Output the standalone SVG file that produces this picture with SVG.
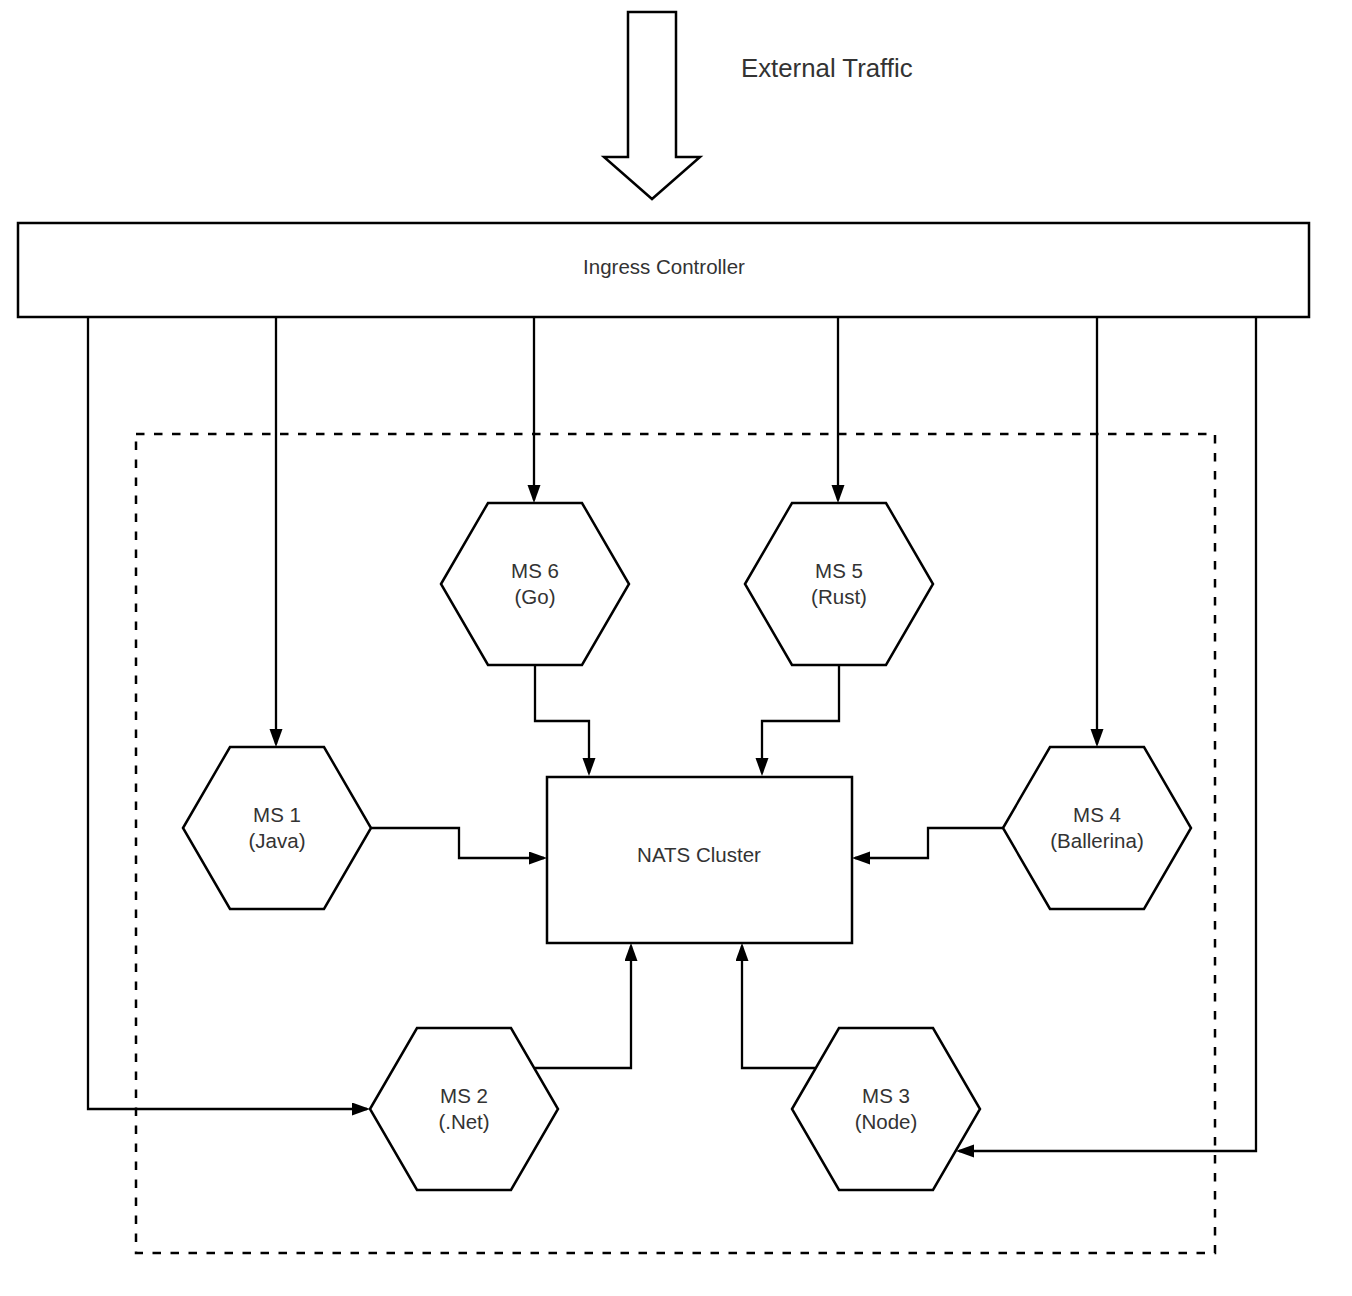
<svg xmlns="http://www.w3.org/2000/svg" width="1352" height="1296" viewBox="0 0 1352 1296">
<style>
.shape{fill:#fff;stroke:#000;stroke-width:2.5}
.conn{fill:none;stroke:#000;stroke-width:2.3}
.lbl{font-family:"Liberation Sans",Arial,sans-serif;font-size:20.5px;fill:#333;text-anchor:middle}
.big{font-size:25.8px;text-anchor:start}
</style>
<defs>
<marker id="ah" markerUnits="userSpaceOnUse" markerWidth="20" markerHeight="14" refX="15" refY="6.5" orient="auto">
<path d="M0,0 L18,6.5 L0,13 z" fill="#000"/>
</marker>
</defs>
<rect width="1352" height="1296" fill="#fff"/>
<g id="boundary">
<rect x="136" y="434" width="1079" height="819" fill="none" stroke="#000" stroke-width="2.5" stroke-dasharray="8.5 9.5"/>
</g>
<g id="external-traffic">
<polygon class="shape" points="628,12 676,12 676,157 700,157 652,199 604,157 628,157"/>
<text class="lbl big" x="741" y="77">External Traffic</text>
</g>
<g id="connectors">
<path class="conn" d="M88,317 V1109 H367" marker-end="url(#ah)"/>
<path class="conn" d="M276,317 V744" marker-end="url(#ah)"/>
<path class="conn" d="M534,317 V500" marker-end="url(#ah)"/>
<path class="conn" d="M838,317 V500" marker-end="url(#ah)"/>
<path class="conn" d="M1097,317 V744" marker-end="url(#ah)"/>
<path class="conn" d="M1256,317 V1151 H959" marker-end="url(#ah)"/>
<path class="conn" d="M371,828 H459 V858 H544" marker-end="url(#ah)"/>
<path class="conn" d="M1003,828 H928 V858 H855" marker-end="url(#ah)"/>
<path class="conn" d="M535,665 V721 H589 V773" marker-end="url(#ah)"/>
<path class="conn" d="M839,665 V721 H762 V773" marker-end="url(#ah)"/>
<path class="conn" d="M535,1068 H631 V946" marker-end="url(#ah)"/>
<path class="conn" d="M815,1068 H742 V946" marker-end="url(#ah)"/>
</g>
<g id="ingress">
<rect class="shape" x="18" y="223" width="1291" height="94"/>
<text class="lbl" x="664" y="274">Ingress Controller</text>
</g>
<g id="nats">
<rect class="shape" x="547" y="777" width="305" height="166"/>
<text class="lbl" x="699" y="862">NATS Cluster</text>
</g>
<g id="ms6">
<polygon class="shape" points="441,584 488,503 582,503 629,584 582,665 488,665"/>
<text class="lbl" x="535" y="578">MS 6</text>
<text class="lbl" x="535" y="604">(Go)</text>
</g>
<g id="ms5">
<polygon class="shape" points="745,584 792,503 886,503 933,584 886,665 792,665"/>
<text class="lbl" x="839" y="578">MS 5</text>
<text class="lbl" x="839" y="604">(Rust)</text>
</g>
<g id="ms1">
<polygon class="shape" points="183,828 230,747 324,747 371,828 324,909 230,909"/>
<text class="lbl" x="277" y="822">MS 1</text>
<text class="lbl" x="277" y="848">(Java)</text>
</g>
<g id="ms4">
<polygon class="shape" points="1003,828 1050,747 1144,747 1191,828 1144,909 1050,909"/>
<text class="lbl" x="1097" y="822">MS 4</text>
<text class="lbl" x="1097" y="848">(Ballerina)</text>
</g>
<g id="ms2">
<polygon class="shape" points="370,1109 417,1028 511,1028 558,1109 511,1190 417,1190"/>
<text class="lbl" x="464" y="1103">MS 2</text>
<text class="lbl" x="464" y="1129">(.Net)</text>
</g>
<g id="ms3">
<polygon class="shape" points="792,1109 839,1028 933,1028 980,1109 933,1190 839,1190"/>
<text class="lbl" x="886" y="1103">MS 3</text>
<text class="lbl" x="886" y="1129">(Node)</text>
</g>
</svg>
